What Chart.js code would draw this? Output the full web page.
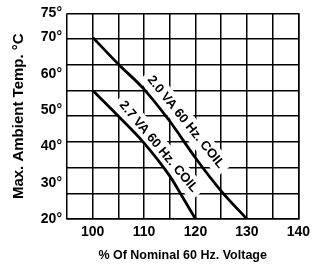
<!DOCTYPE html>
<html>
<head>
<meta charset="utf-8">
<script src="https://cdn.jsdelivr.net/npm/chart.js@4"></script>
<style>
  html, body { margin: 0; padding: 0; background: #fff; }
  #wrap { width: 315px; height: 268px; }
</style>
</head>
<body>
<div id="wrap"><canvas id="coilChart"></canvas></div>
<script>
// % of nominal voltage vs max ambient temperature
const coil20Volts = [100, 105, 110, 115, 120, 125, 130];
const coil20Temps = [70, 62.6, 55.7, 46.9, 36.8, 27.7, 20];

const coil27Volts = [100, 105, 110, 115, 117.5, 120];
const coil27Temps = [55.4, 48.3, 40.9, 31.8, 26, 20];

const xTicks = [95, 100, 105, 110, 115, 120, 125, 130, 135, 140];
const yLabelTicks = [20, 30, 40, 50, 60, 70, 75];

const coilLabels = ['2.0 VA 60 Hz. COIL', '2.7 VA 60 Hz. COIL'];
const coilLabelAt = [[118.1, 46.7], [112.8, 39.9]];
const coilLabelAngle = [51, 50];

const yMin = 20, yMax = 76.6;
const font = '"Liberation Sans", Arial, sans-serif';

function toPoints(xs, ys) {
    return xs.map((x, i) => ({ x: x, y: ys[i] }));
}

// text along the curves, with a white box behind it like the original artwork
const coilLabelPlugin = {
    id: 'coilLabels',
    beforeDatasetsDraw(chart) {
        const ctx = chart.ctx;
        const xs = chart.scales.x, ys = chart.scales.y;
        ctx.save();
        ctx.font = 'bold 13px ' + font;
        ctx.textAlign = 'center';
        ctx.textBaseline = 'middle';
        coilLabels.forEach((text, i) => {
            const px = xs.getPixelForValue(coilLabelAt[i][0]);
            const py = ys.getPixelForValue(coilLabelAt[i][1]);
            const w = ctx.measureText(text).width;
            ctx.save();
            ctx.translate(px, py);
            ctx.rotate(coilLabelAngle[i] * Math.PI / 180);
            ctx.fillStyle = '#fff';
            ctx.fillRect(-w / 2 - 5, -10, w + 10, 20);
            ctx.fillStyle = '#000';
            ctx.fillText(text, 0, 0);
            ctx.restore();
        });
        ctx.restore();
    }
};

const ctx = document.getElementById('coilChart').getContext('2d');
const coilChart = new Chart(ctx, {
    type: 'line',
    data: {
        datasets: [{
            label: '2.0 VA 60 Hz. Coil',
            data: toPoints(coil20Volts, coil20Temps),
            borderColor: '#000',
            borderWidth: 2.8,
            pointRadius: 0,
            cubicInterpolationMode: 'monotone'
        }, {
            label: '2.7 VA 60 Hz. Coil',
            data: toPoints(coil27Volts, coil27Temps),
            borderColor: '#000',
            borderWidth: 2.8,
            pointRadius: 0,
            cubicInterpolationMode: 'monotone'
        }]
    },
    options: {
        responsive: true,
        maintainAspectRatio: false,
        animation: false,
        layout: { padding: { left: 0, right: 14, top: 13, bottom: 0 } },
        plugins: {
            legend: { display: false },
            tooltip: { enabled: false }
        },
        scales: {
            x: {
                type: 'linear',
                min: 95,
                max: 140,
                afterBuildTicks: axis => { axis.ticks = xTicks.map(v => ({ value: v })); },
                afterFit: axis => { axis.height = 49; },
                ticks: {
                    color: '#000',
                    padding: 5,
                    maxRotation: 0,
                    autoSkip: false,
                    font: { family: font, size: 14, weight: 'bold' },
                    callback: v => (v % 10 === 0 ? String(v) : '')
                },
                grid: { color: '#000', lineWidth: 1.5, drawTicks: false },
                border: { color: '#000', width: 1.5 },
                title: {
                    display: true,
                    text: '% Of Nominal 60 Hz. Voltage',
                    color: '#000',
                    font: { family: font, size: 12.5, weight: 'bold' },
                    padding: { top: 0, bottom: 5 }
                }
            },
            y: {
                type: 'linear',
                position: 'left',
                min: yMin,
                max: yMax,
                afterBuildTicks: axis => {
                    // the top label sits at the top edge of the grid
                    axis.ticks = yLabelTicks.map(v => ({ value: v === 75 ? yMax : v }));
                },
                afterFit: axis => { axis.width = 67; },
                ticks: {
                    color: '#000',
                    padding: 5,
                    autoSkip: false,
                    font: { family: font, size: 14, weight: 'bold' },
                    callback: v => (v === yMax ? '75' : String(v)) + '°'
                },
                grid: { display: false, drawTicks: false },
                border: { display: false },
                title: {
                    display: true,
                    text: 'Max. Ambient Temp. °C',
                    color: '#000',
                    font: { family: font, size: 15, weight: 'bold' },
                    padding: { top: 10, bottom: 0 }
                }
            },
            yGrid: {
                type: 'linear',
                position: 'right',
                min: yMin,
                max: yMax,
                afterBuildTicks: axis => {
                    const step = (yMax - yMin) / 8;
                    axis.ticks = [0, 1, 2, 3, 4, 5, 6, 7, 8].map(i => ({ value: yMin + i * step }));
                },
                afterFit: axis => { axis.width = 0; },
                ticks: { display: false, autoSkip: false },
                grid: { color: '#000', lineWidth: 1.5, drawTicks: false },
                border: { color: '#000', width: 1.5 }
            }
        }
    },
    plugins: [coilLabelPlugin]
});
</script>
</body>
</html>
